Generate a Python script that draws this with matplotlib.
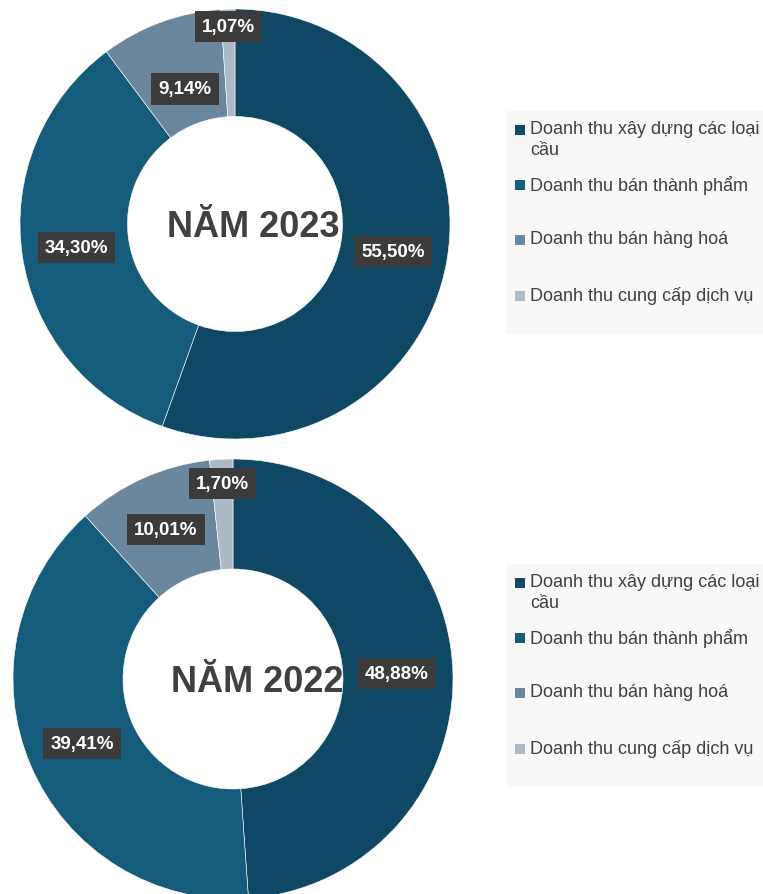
import numpy as np
import matplotlib
matplotlib.use("Agg")
import matplotlib.pyplot as plt
from matplotlib.patches import Rectangle

plt.rcParams['font.family'] = ['Liberation Sans', 'DejaVu Sans']

# data
categories = ["Doanh thu xây dựng các loại\ncầu", "Doanh thu bán thành phẩm",
              "Doanh thu bán hàng hoá", "Doanh thu cung cấp dịch vụ"]
share_2023 = [55.50, 34.30, 9.14, 1.07]
share_2022 = [48.88, 39.41, 10.01, 1.70]
years = ["NĂM 2023", "NĂM 2022"]

colors = ['#0f4864', '#155b7b', '#6a879d', '#adbac6']
W, H = 763, 895

fig = plt.figure(figsize=(W / 100, H / 100), dpi=100)
fig.patch.set_facecolor('white')


def px_axes(x0, y0, x1, y1):
    # axes from pixel box (top-left origin)
    return fig.add_axes([x0 / W, 1 - y1 / H, (x1 - x0) / W, (y1 - y0) / H])


def donut(ax, values, title, label_r, title_dx):
    wedges, _ = ax.pie(values, colors=colors, startangle=90, counterclock=False,
                       radius=1, wedgeprops=dict(width=0.5, edgecolor='white', linewidth=0.4))
    ax.set_xlim(-1, 1)
    ax.set_ylim(-1, 1)
    ax.set_aspect('equal')
    ax.axis('off')
    for w, v, r in zip(wedges, values, label_r):
        ang = np.deg2rad((w.theta1 + w.theta2) / 2)
        txt = f"{v:.2f}%".replace('.', ',')
        ax.text(r * np.cos(ang), r * np.sin(ang), txt, ha='center', va='center',
                fontsize=13.5, fontweight='bold', color='white',
                bbox=dict(boxstyle='square,pad=0.38', fc='#3b3b3b', ec='none'))
    ax.text(title_dx, -0.01, title, ha='center', va='center', fontsize=26,
            fontweight='bold', color='#404040', zorder=0)


def legend_box(top):
    fig.add_artist(Rectangle((506 / W, 1 - (top + 223) / H), (W - 506) / W, 223 / H,
                             transform=fig.transFigure, fc='#f8f8f8', ec='none'))
    rows = [top + 19, top + 74, top + 129, top + 185]
    for c, lab, y in zip(colors, categories, rows):
        fig.add_artist(Rectangle((515 / W, 1 - (y + 5) / H), 10 / W, 10 / H,
                                 transform=fig.transFigure, fc=c, ec='none'))
        fig.text(530 / W, 1 - (y - 10) / H, lab, ha='left', va='top', fontsize=13,
                 color='#404040', linespacing=1.32)


ax1 = px_axes(20, 10, 450, 440)
donut(ax1, share_2023, years[0], [0.745, 0.745, 0.67, 0.92], 0.085)
legend_box(112)

ax2 = px_axes(13, 460, 453, 900)
donut(ax2, share_2022, years[1], [0.745, 0.745, 0.745, 0.89], 0.11)
legend_box(565)

fig.savefig('out.png', dpi=100, facecolor='white')
